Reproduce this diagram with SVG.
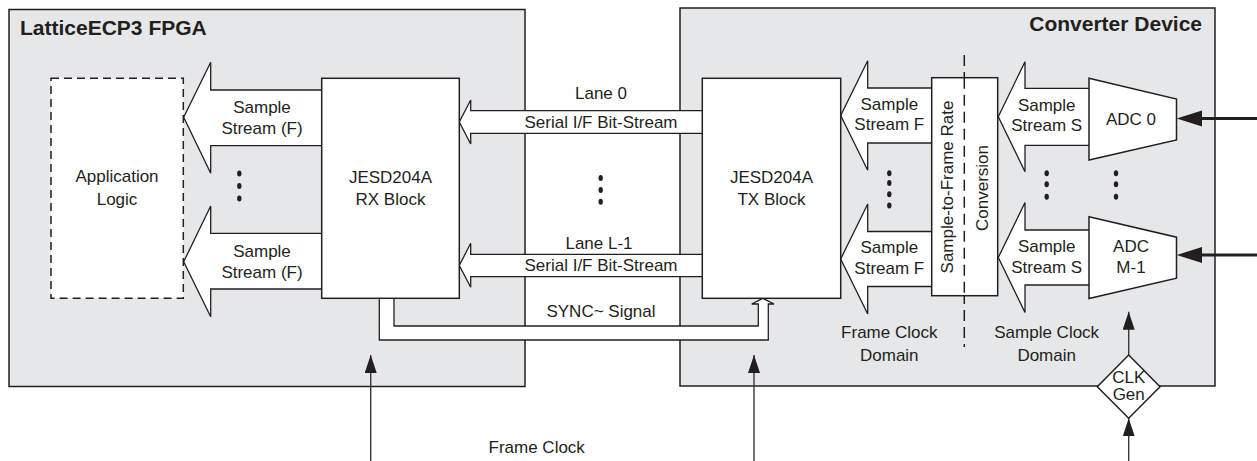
<svg xmlns="http://www.w3.org/2000/svg" width="1257" height="461" viewBox="0 0 1257 461">
<style>
.cont{fill:#e6e7e8;stroke:#231f20;stroke-width:1.5}
.blk{fill:#fff;stroke:#231f20;stroke-width:1.5}
.arr{fill:#fff;stroke:#231f20;stroke-width:1.3;stroke-linejoin:miter}
.t{font-family:"Liberation Sans",Arial,sans-serif;font-size:17px;fill:#231f20;text-anchor:middle}
.title{font-family:"Liberation Sans",Arial,sans-serif;font-size:21px;font-weight:bold;fill:#231f20}
.clk{stroke:#3a3a3a;stroke-width:1.4;fill:none}
.dot{fill:#231f20}
</style>
<defs>
<marker id="ah" markerWidth="18" markerHeight="12" refX="18" refY="6" orient="auto" markerUnits="userSpaceOnUse" viewBox="0 0 18 12">
<path d="M0,0 L18,6 L0,12 Z" fill="#231f20"/>
</marker>
</defs>

<g id="fpga">
<rect class="cont" x="9" y="9.5" width="516" height="377"/>
<text class="title" x="20" y="35">LatticeECP3 FPGA</text>
</g>
<g id="converter">
<rect class="cont" x="680" y="8" width="535" height="378"/>
<text class="title" x="1202" y="31" style="text-anchor:end">Converter Device</text>
</g>

<g id="connectors">
<path class="arr" d="M321.7,90 H210.7 V62.3 L183.7,117.3 L210.7,173.3 V145.7 H321.7"/>
<path class="arr" d="M321.7,233.3 H210.7 V206 L183.7,261.7 L210.7,316.7 V289 H321.7"/>
<path class="arr" d="M702.3,110.7 H470.7 V100 L459.3,122 L470.7,144 V133.3 H702.3"/>
<path class="arr" d="M702.3,254.3 H470.7 V243.3 L459.3,265.5 L470.7,287.3 V276.7 H702.3"/>
<path class="arr" d="M379.3,298.3 V340 H768.3 V304 H774 L762.8,298.3 L751.7,304 H758.3 V326 H394 V298.3"/>
<path class="arr" d="M931.7,88 H867.7 V60.7 L840.7,115.5 L867.7,170.3 V143 H931.7"/>
<path class="arr" d="M931.7,231.5 H867.7 V204 L840.7,259 L867.7,314 V286.5 H931.7"/>
<path class="arr" d="M1089,88.3 H1025 V61.7 L998.3,116.7 L1025,171.7 V145.3 H1089"/>
<path class="arr" d="M1089,230 H1025 V202.5 L998.3,257.5 L1025,312.5 V285 H1089"/>
<line x1="1257" y1="118.5" x2="1200" y2="118.5" stroke="#231f20" stroke-width="3"/>
<path d="M1176.7,118.5 L1202,110.5 L1202,126.5 Z" fill="#231f20"/>
<line x1="1257" y1="255" x2="1200" y2="255" stroke="#231f20" stroke-width="3"/>
<path d="M1176.7,255 L1202,247 L1202,263 Z" fill="#231f20"/>
<line class="clk" x1="370.7" y1="461" x2="370.7" y2="355" marker-end="url(#ah)"/>
<line class="clk" x1="754" y1="461" x2="754" y2="355" marker-end="url(#ah)"/>
<line class="clk" x1="1128.7" y1="355" x2="1128.7" y2="311.7" marker-end="url(#ah)"/>
<line class="clk" x1="1128.7" y1="461" x2="1128.7" y2="418.3" marker-end="url(#ah)"/>
<line x1="964.3" y1="55" x2="964.3" y2="347" stroke="#231f20" stroke-width="1.5" stroke-dasharray="11,6"/>
</g>

<g id="arrow-labels">
<text class="t" x="262" y="112.5">Sample</text>
<text class="t" x="262" y="133.5">Stream (F)</text>
<text class="t" x="262" y="256.8">Sample</text>
<text class="t" x="262" y="277.8">Stream (F)</text>
<text class="t" x="601" y="99.3">Lane 0</text>
<text class="t" x="601" y="128.3">Serial I/F Bit-Stream</text>
<text class="t" x="599" y="249">Lane L-1</text>
<text class="t" x="601" y="270.7">Serial I/F Bit-Stream</text>
<text class="t" x="601" y="317.3">SYNC~ Signal</text>
<text class="t" x="889.3" y="109.5">Sample</text>
<text class="t" x="889.3" y="130">Stream F</text>
<text class="t" x="889.3" y="253">Sample</text>
<text class="t" x="889.3" y="274">Stream F</text>
<text class="t" x="1046.7" y="110.7">Sample</text>
<text class="t" x="1046.7" y="130.7">Stream S</text>
<text class="t" x="1046.7" y="251.7">Sample</text>
<text class="t" x="1046.7" y="272.7">Stream S</text>
<text class="t" x="889.3" y="338">Frame Clock</text>
<text class="t" x="889.3" y="361">Domain</text>
<text class="t" x="1046.7" y="337.5">Sample Clock</text>
<text class="t" x="1046.7" y="361">Domain</text>
<text class="t" x="536.7" y="452.7">Frame Clock</text>
</g>

<g id="dots">
<ellipse class="dot" cx="239.3" cy="173.5" rx="2.2" ry="3"/>
<ellipse class="dot" cx="239.3" cy="186" rx="2.2" ry="3"/>
<ellipse class="dot" cx="239.3" cy="198.5" rx="2.2" ry="3"/>
<ellipse class="dot" cx="600.7" cy="178" rx="2.2" ry="3"/>
<ellipse class="dot" cx="600.7" cy="190" rx="2.2" ry="3"/>
<ellipse class="dot" cx="600.7" cy="201.7" rx="2.2" ry="3"/>
<ellipse class="dot" cx="889.3" cy="173.3" rx="2.2" ry="3"/>
<ellipse class="dot" cx="889.3" cy="183" rx="2.2" ry="3"/>
<ellipse class="dot" cx="889.3" cy="194.3" rx="2.2" ry="3"/>
<ellipse class="dot" cx="889.3" cy="205.5" rx="2.2" ry="3"/>
<ellipse class="dot" cx="1046.7" cy="173.3" rx="2.2" ry="3"/>
<ellipse class="dot" cx="1046.7" cy="184.3" rx="2.2" ry="3"/>
<ellipse class="dot" cx="1046.7" cy="196.7" rx="2.2" ry="3"/>
<ellipse class="dot" cx="1116" cy="173.3" rx="2.2" ry="3"/>
<ellipse class="dot" cx="1116" cy="184.3" rx="2.2" ry="3"/>
<ellipse class="dot" cx="1116" cy="196.7" rx="2.2" ry="3"/>
</g>

<g id="app-logic">
<rect x="51" y="78.3" width="132.3" height="220" fill="#fff" stroke="#231f20" stroke-width="1.5" stroke-dasharray="8,5"/>
<text class="t" x="117" y="182.3">Application</text>
<text class="t" x="117" y="205">Logic</text>
</g>
<g id="rx-block">
<rect class="blk" x="321.7" y="78.3" width="137.6" height="220"/>
<text class="t" x="390.5" y="183">JESD204A</text>
<text class="t" x="390.5" y="205">RX Block</text>
</g>
<g id="tx-block">
<rect class="blk" x="702.3" y="78.3" width="138.4" height="220"/>
<text class="t" x="771.5" y="183">JESD204A</text>
<text class="t" x="771.5" y="205">TX Block</text>
</g>
<g id="rate-conversion">
<rect class="blk" x="931.7" y="77.7" width="66" height="218"/>
<line x1="964.3" y1="77.7" x2="964.3" y2="295.7" stroke="#231f20" stroke-width="1.5" stroke-dasharray="11,6"/>
<text class="t" transform="translate(953,187) rotate(-90)">Sample-to-Frame Rate</text>
<text class="t" transform="translate(987.5,188) rotate(-90)">Conversion</text>
</g>
<g id="adc0">
<path class="blk" d="M1089,78.3 L1176.5,99 L1176.5,140 L1089,160 Z"/>
<text class="t" x="1131" y="125">ADC 0</text>
</g>
<g id="adcm1">
<path class="blk" d="M1089,216.8 L1176.5,237.2 L1176.5,278.2 L1089,298.5 Z"/>
<text class="t" x="1131" y="251.7">ADC</text>
<text class="t" x="1131" y="273.3">M-1</text>
</g>
<g id="clk-gen">
<path class="blk" d="M1128.7,355 L1160,386.7 L1128.7,418.3 L1097.3,386.7 Z"/>
<text class="t" x="1128.7" y="383.3">CLK</text>
<text class="t" x="1128.7" y="400">Gen</text>
</g>
</svg>
